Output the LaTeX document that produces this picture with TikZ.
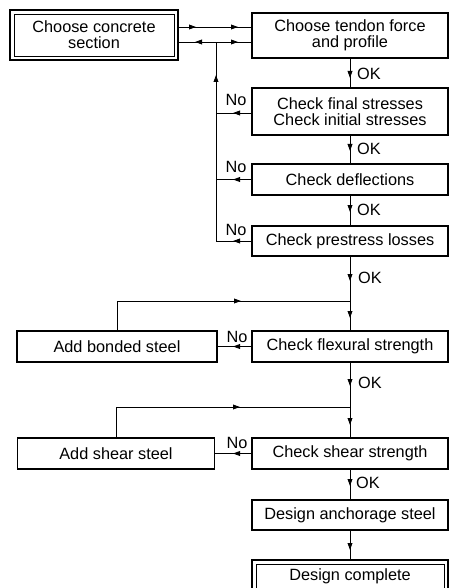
\documentclass[tikz,border=0pt]{standalone}
\usepackage{fontspec}
\setmainfont{Liberation Sans}
\usetikzlibrary{arrows.meta,decorations.markings,calc}
\begin{document}
\begin{tikzpicture}[x=1pt,y=-1pt,
  >={Triangle[length=7pt,width=4.8pt]},
  box/.style={draw, line width=1.3pt, minimum width=196pt, inner sep=0pt, outer sep=0pt, align=center, font=\fontsize{16.3}{16}\selectfont},
  dbl/.style={line width=2.2pt},
  lab/.style={inner sep=0pt, font=\fontsize{16.3}{16}\selectfont},
  conn/.style={line width=0.9pt},
  am/.style={postaction={decorate,decoration={markings,mark=at position #1 with {\arrow{>}}}}},
  amm/.style 2 args={postaction={decorate,decoration={markings,mark=at position #1 with {\arrow{>}},mark=at position #2 with {\arrow{>}}}}}
]
\useasboundingbox (0,0) rectangle (449,588);

% boxes
\node[box, dbl, minimum width=168pt, minimum height=50pt] (c1) at (94,35) {Choose concrete\\section};
\draw[line width=0.8pt] ([xshift=4pt,yshift=-4pt]c1.north west) rectangle ([xshift=-4pt,yshift=4pt]c1.south east);
\node[box, minimum height=45pt] (b1) at (350,35.5) {Choose tendon force\\and profile};
\node[box, minimum height=47pt] (b2) at (350,111.5) {Check final stresses\\Check initial stresses};
\node[box, minimum height=31pt] (b3) at (350,179.5) {Check deflections};
\node[box, minimum height=30pt] (b4) at (350,241) {Check prestress losses};
\node[box, minimum height=31pt] (b5) at (350,346.5) {Check flexural strength};
\node[box, minimum width=200pt, minimum height=31pt] (a1) at (117,346.5) {Add bonded steel};
\node[box, minimum height=31pt] (b6) at (350,453.5) {Check shear strength};
\node[box, minimum width=197pt, minimum height=31pt] (a2) at (116,453.5) {Add shear steel};
\node[box, minimum height=30pt] (b7) at (350,515) {Design anchorage steel};
\node[box, dbl, minimum height=32pt] (b8) at (350,576) {Design complete};
\draw[line width=0.8pt] ([xshift=4pt,yshift=-4pt]b8.north west) rectangle ([xshift=-4pt,yshift=4pt]b8.south east);

% junctions
\coordinate (fb) at (216,42);
\coordinate (fl) at (b4.west -| fb);
\coordinate (j1) at (350,301);
\coordinate (j2) at (350,407);

% top connectors
\draw[conn, amm={18pt}{60pt}] ([yshift=8pt]c1.east) -- ([yshift=8pt]c1.east -| b1.west);
\draw[conn, am=21pt] (fb) -- (fb -| c1.east);
\draw[conn, am=22pt] (fb) -- (fb -| b1.west);
\draw[conn, am=166pt] (fl) -- (fb);

% No feedbacks
\draw[conn, am=19pt] ([yshift=-1.5pt]b2.west) -- ([yshift=-1.5pt]b2.west -| fb);
\draw[conn, am=19pt] (b3.west) -- (b3.west -| fb);
\draw[conn, am=19pt] (b4.west) -- (fl);

% OK chain
\draw[conn, am=20pt] (b1.south) -- (b2.north);
\draw[conn, am=16pt] (b2.south) -- (b3.north);
\draw[conn, am=17pt] (b3.south) -- (b4.north);
\draw[conn, amm={25pt}{62pt}] (b4.south) -- (b5.north);
\draw[conn, am=154pt] (a1.north) |- (j1);
\draw[conn, am=19pt] (b5.west) -- (a1.east);
\draw[conn, amm={24pt}{63pt}] (b5.south) -- (b6.north);
\draw[conn, am=155pt] (a2.north) |- (j2);
\draw[conn, am=19pt] (b6.west) -- (a2.east);
\draw[conn, am=17pt] (b6.south) -- (b7.north);
\draw[conn, am=20pt] (b7.south) -- (b8.north);

% labels
\node[lab, anchor=west] (ok1) at (357,74) {OK};
\node[lab, anchor=west] (ok2) at (357,149) {OK};
\node[lab, anchor=west] (ok3) at (357,210) {OK};
\node[lab, anchor=west] (ok4) at (358,278) {OK};
\node[lab, anchor=west] (ok5) at (358,383) {OK};
\node[lab, anchor=west] (ok6) at (356,483) {OK};
\node[lab] (no1) at (236,100) {No};
\node[lab] (no2) at (236,167) {No};
\node[lab] (no3) at (236,230) {No};
\node[lab] (no4) at (237,337) {No};
\node[lab] (no5) at (237,443) {No};
\end{tikzpicture}
\end{document}
